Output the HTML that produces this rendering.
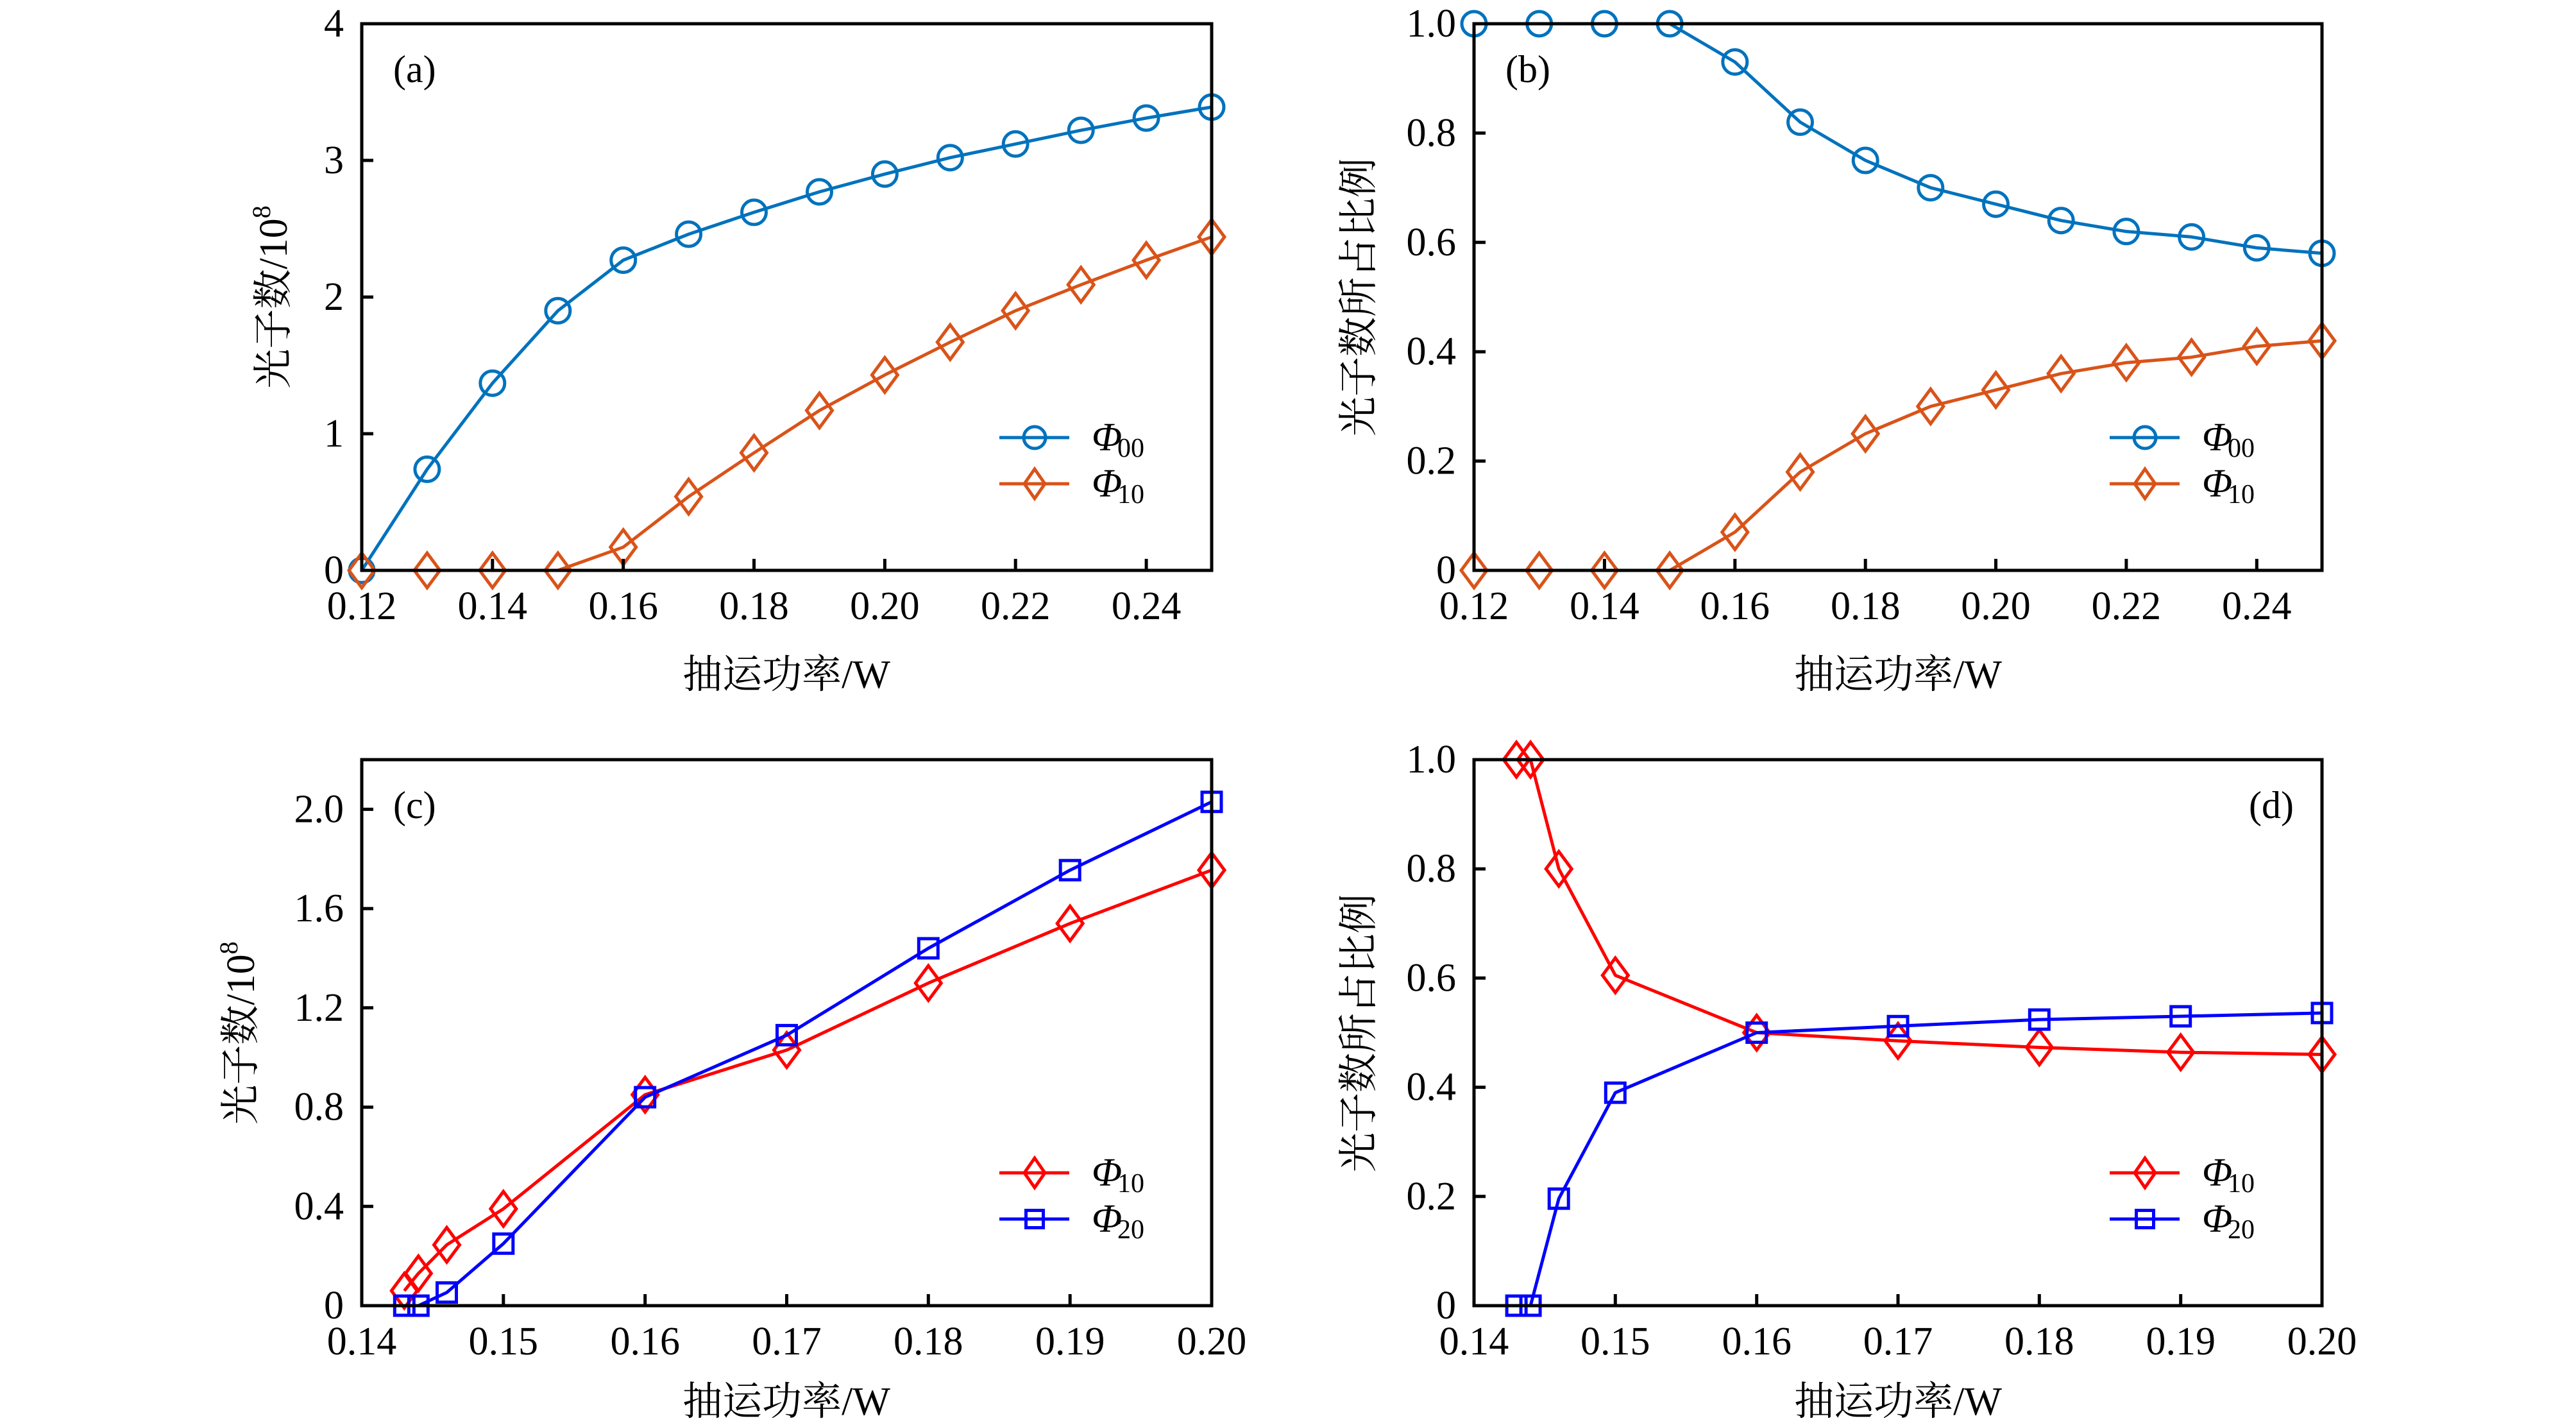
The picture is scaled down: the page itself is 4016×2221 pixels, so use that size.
<!DOCTYPE html>
<html>
<head>
<meta charset="utf-8">
<style>
html,body{margin:0;padding:0;background:#fff;}
svg{display:block;}
text{font-family:"Liberation Serif","Noto Serif CJK SC",serif;fill:#000;}
.cjk{font-family:"Liberation Serif","Noto Serif CJK SC",serif;}
</style>
</head>
<body>
<svg width="4016" height="2221" viewBox="0 0 4016 2221" xmlns="http://www.w3.org/2000/svg">
<rect x="0" y="0" width="4016" height="2221" fill="#fff"/>

<!-- ================= Panel (a) ================= -->
<g>
  <!-- series Φ00 -->
  <polyline fill="none" stroke="#0072BD" stroke-width="5" stroke-linejoin="round"
    points="564,889 665.9,731.4 767.8,597.2 869.8,484.3 971.7,405.5 1073.6,365 1175.5,330.9 1277.5,299 1379.4,271.3 1481.3,245.7 1583.2,224.4 1685.2,203.1 1787.1,184 1889,166.9"/>
  <g fill="none" stroke="#0072BD" stroke-width="5">
    <circle cx="564" cy="889" r="19"/><circle cx="665.9" cy="731.4" r="19"/><circle cx="767.8" cy="597.2" r="19"/>
    <circle cx="869.8" cy="484.3" r="19"/><circle cx="971.7" cy="405.5" r="19"/><circle cx="1073.6" cy="365" r="19"/>
    <circle cx="1175.5" cy="330.9" r="19"/><circle cx="1277.5" cy="299" r="19"/><circle cx="1379.4" cy="271.3" r="19"/>
    <circle cx="1481.3" cy="245.7" r="19"/><circle cx="1583.2" cy="224.4" r="19"/><circle cx="1685.2" cy="203.1" r="19"/>
    <circle cx="1787.1" cy="184" r="19"/><circle cx="1889" cy="166.9" r="19"/>
  </g>
  <!-- series Φ10 -->
  <polyline fill="none" stroke="#D95319" stroke-width="5" stroke-linejoin="round"
    points="564,889 665.9,889 767.8,889 869.8,889 971.7,852.8 1073.6,774 1175.5,705.8 1277.5,639.8 1379.4,584.4 1481.3,533.3 1583.2,484.3 1685.2,443.8 1787.1,405.5 1889,369.3"/>
  <g fill="none" stroke="#D95319" stroke-width="5">
    <polygon points="564,862 584,889 564,916 544,889"/>
    <polygon points="665.9,862 685.9,889 665.9,916 645.9,889"/>
    <polygon points="767.8,862 787.8,889 767.8,916 747.8,889"/>
    <polygon points="869.8,862 889.8,889 869.8,916 849.8,889"/>
    <polygon points="971.7,825.8 991.7,852.8 971.7,879.8 951.7,852.8"/>
    <polygon points="1073.6,747 1093.6,774 1073.6,801 1053.6,774"/>
    <polygon points="1175.5,678.8 1195.5,705.8 1175.5,732.8 1155.5,705.8"/>
    <polygon points="1277.5,612.8 1297.5,639.8 1277.5,666.8 1257.5,639.8"/>
    <polygon points="1379.4,557.4 1399.4,584.4 1379.4,611.4 1359.4,584.4"/>
    <polygon points="1481.3,506.3 1501.3,533.3 1481.3,560.3 1461.3,533.3"/>
    <polygon points="1583.2,457.3 1603.2,484.3 1583.2,511.3 1563.2,484.3"/>
    <polygon points="1685.2,416.8 1705.2,443.8 1685.2,470.8 1665.2,443.8"/>
    <polygon points="1787.1,378.5 1807.1,405.5 1787.1,432.5 1767.1,405.5"/>
    <polygon points="1889,342.3 1909,369.3 1889,396.3 1869,369.3"/>
  </g>
  <!-- axes -->
  <rect x="564" y="37" width="1325" height="852" fill="none" stroke="#000" stroke-width="5"/>
  <g stroke="#000" stroke-width="5">
    <line x1="767.8" y1="889" x2="767.8" y2="871"/><line x1="971.7" y1="889" x2="971.7" y2="871"/>
    <line x1="1175.5" y1="889" x2="1175.5" y2="871"/><line x1="1379.4" y1="889" x2="1379.4" y2="871"/>
    <line x1="1583.2" y1="889" x2="1583.2" y2="871"/><line x1="1787.1" y1="889" x2="1787.1" y2="871"/>
    <line x1="564" y1="676" x2="582" y2="676"/><line x1="564" y1="463" x2="582" y2="463"/><line x1="564" y1="250" x2="582" y2="250"/>
  </g>
  <g font-size="62" text-anchor="middle">
    <text x="564" y="965">0.12</text><text x="767.8" y="965">0.14</text><text x="971.7" y="965">0.16</text>
    <text x="1175.5" y="965">0.18</text><text x="1379.4" y="965">0.20</text><text x="1583.2" y="965">0.22</text>
    <text x="1787.1" y="965">0.24</text>
  </g>
  <g font-size="62" text-anchor="end">
    <text x="536" y="909">0</text><text x="536" y="696">1</text><text x="536" y="483">2</text>
    <text x="536" y="270">3</text><text x="536" y="57">4</text>
  </g>
  <text x="613" y="128" font-size="60">(a)</text>
  <text class="cjk" x="1226" y="1072" font-size="62" text-anchor="middle">抽运功率/W</text>
  <text class="cjk" transform="translate(447,463) rotate(-90)" font-size="62" text-anchor="middle">光子数/10<tspan font-size="40" dy="-26">8</tspan></text>
  <!-- legend -->
  <line x1="1558" y1="682" x2="1667" y2="682" stroke="#0072BD" stroke-width="5"/>
  <circle cx="1613" cy="682" r="17" fill="none" stroke="#0072BD" stroke-width="5"/>
  <line x1="1558" y1="754" x2="1667" y2="754" stroke="#D95319" stroke-width="5"/>
  <polygon points="1613,731 1629,754 1613,777 1597,754" fill="none" stroke="#D95319" stroke-width="5"/>
  <text x="1702" y="702" font-size="62" font-style="italic">Φ</text><text x="1742" y="712" font-size="42">00</text>
  <text x="1702" y="774" font-size="62" font-style="italic">Φ</text><text x="1742" y="784" font-size="42">10</text>
</g>

<!-- ================= Panel (b) ================= -->
<g>
  <polyline fill="none" stroke="#0072BD" stroke-width="5" stroke-linejoin="round"
    points="2298,37 2399.7,37 2501.4,37 2603.1,37 2704.8,96.6 2806.5,190.4 2908.2,250 3009.8,292.6 3111.5,318.2 3213.2,343.7 3314.9,360.8 3416.6,369.3 3518.3,386.3 3620,394.8"/>
  <g fill="none" stroke="#0072BD" stroke-width="5">
    <circle cx="2298" cy="37" r="19"/><circle cx="2399.7" cy="37" r="19"/><circle cx="2501.4" cy="37" r="19"/>
    <circle cx="2603.1" cy="37" r="19"/><circle cx="2704.8" cy="96.6" r="19"/><circle cx="2806.5" cy="190.4" r="19"/>
    <circle cx="2908.2" cy="250" r="19"/><circle cx="3009.8" cy="292.6" r="19"/><circle cx="3111.5" cy="318.2" r="19"/>
    <circle cx="3213.2" cy="343.7" r="19"/><circle cx="3314.9" cy="360.8" r="19"/><circle cx="3416.6" cy="369.3" r="19"/>
    <circle cx="3518.3" cy="386.3" r="19"/><circle cx="3620" cy="394.8" r="19"/>
  </g>
  <polyline fill="none" stroke="#D95319" stroke-width="5" stroke-linejoin="round"
    points="2298,889 2399.7,889 2501.4,889 2603.1,889 2704.8,829.4 2806.5,735.6 2908.2,676 3009.8,633.4 3111.5,607.8 3213.2,582.3 3314.9,565.2 3416.6,556.7 3518.3,539.7 3620,531.2"/>
  <g fill="none" stroke="#D95319" stroke-width="5">
    <polygon points="2298,862 2318,889 2298,916 2278,889"/>
    <polygon points="2399.7,862 2419.7,889 2399.7,916 2379.7,889"/>
    <polygon points="2501.4,862 2521.4,889 2501.4,916 2481.4,889"/>
    <polygon points="2603.1,862 2623.1,889 2603.1,916 2583.1,889"/>
    <polygon points="2704.8,802.4 2724.8,829.4 2704.8,856.4 2684.8,829.4"/>
    <polygon points="2806.5,708.6 2826.5,735.6 2806.5,762.6 2786.5,735.6"/>
    <polygon points="2908.2,649 2928.2,676 2908.2,703 2888.2,676"/>
    <polygon points="3009.8,606.4 3029.8,633.4 3009.8,660.4 2989.8,633.4"/>
    <polygon points="3111.5,580.8 3131.5,607.8 3111.5,634.8 3091.5,607.8"/>
    <polygon points="3213.2,555.3 3233.2,582.3 3213.2,609.3 3193.2,582.3"/>
    <polygon points="3314.9,538.2 3334.9,565.2 3314.9,592.2 3294.9,565.2"/>
    <polygon points="3416.6,529.7 3436.6,556.7 3416.6,583.7 3396.6,556.7"/>
    <polygon points="3518.3,512.7 3538.3,539.7 3518.3,566.7 3498.3,539.7"/>
    <polygon points="3620,504.2 3640,531.2 3620,558.2 3600,531.2"/>
  </g>
  <rect x="2298" y="37" width="1322" height="852" fill="none" stroke="#000" stroke-width="5"/>
  <g stroke="#000" stroke-width="5">
    <line x1="2501.4" y1="889" x2="2501.4" y2="871"/><line x1="2704.8" y1="889" x2="2704.8" y2="871"/>
    <line x1="2908.2" y1="889" x2="2908.2" y2="871"/><line x1="3111.5" y1="889" x2="3111.5" y2="871"/>
    <line x1="3314.9" y1="889" x2="3314.9" y2="871"/><line x1="3518.3" y1="889" x2="3518.3" y2="871"/>
    <line x1="2298" y1="718.6" x2="2316" y2="718.6"/><line x1="2298" y1="548.2" x2="2316" y2="548.2"/>
    <line x1="2298" y1="377.8" x2="2316" y2="377.8"/><line x1="2298" y1="207.4" x2="2316" y2="207.4"/>
  </g>
  <g font-size="62" text-anchor="middle">
    <text x="2298" y="965">0.12</text><text x="2501.4" y="965">0.14</text><text x="2704.8" y="965">0.16</text>
    <text x="2908.2" y="965">0.18</text><text x="3111.5" y="965">0.20</text><text x="3314.9" y="965">0.22</text>
    <text x="3518.3" y="965">0.24</text>
  </g>
  <g font-size="62" text-anchor="end">
    <text x="2270" y="909">0</text><text x="2270" y="738.6">0.2</text><text x="2270" y="568.2">0.4</text>
    <text x="2270" y="397.8">0.6</text><text x="2270" y="227.4">0.8</text><text x="2270" y="57">1.0</text>
  </g>
  <text x="2347" y="128" font-size="60">(b)</text>
  <text class="cjk" x="2959" y="1072" font-size="62" text-anchor="middle">抽运功率/W</text>
  <text class="cjk" transform="translate(2139,463) rotate(-90)" font-size="62" text-anchor="middle">光子数所占比例</text>
  <line x1="3289" y1="682" x2="3398" y2="682" stroke="#0072BD" stroke-width="5"/>
  <circle cx="3344" cy="682" r="17" fill="none" stroke="#0072BD" stroke-width="5"/>
  <line x1="3289" y1="754" x2="3398" y2="754" stroke="#D95319" stroke-width="5"/>
  <polygon points="3344,731 3360,754 3344,777 3328,754" fill="none" stroke="#D95319" stroke-width="5"/>
  <text x="3433" y="702" font-size="62" font-style="italic">Φ</text><text x="3473" y="712" font-size="42">00</text>
  <text x="3433" y="774" font-size="62" font-style="italic">Φ</text><text x="3473" y="784" font-size="42">10</text>
</g>

<!-- ================= Panel (c) ================= -->
<g>
  <polyline fill="none" stroke="#FF0000" stroke-width="5" stroke-linejoin="round"
    points="630.3,2011.8 652.3,1984.7 696.5,1940.2 784.8,1884.1 1005.7,1706.2 1226.5,1636.6 1447.3,1532.2 1668.2,1439.3 1889,1356.2"/>
  <g fill="none" stroke="#FF0000" stroke-width="5">
    <polygon points="630.3,1984.8 650.3,2011.8 630.3,2038.8 610.3,2011.8"/>
    <polygon points="652.3,1957.7 672.3,1984.7 652.3,2011.7 632.3,1984.7"/>
    <polygon points="696.5,1913.2 716.5,1940.2 696.5,1967.2 676.5,1940.2"/>
    <polygon points="784.8,1857.1 804.8,1884.1 784.8,1911.1 764.8,1884.1"/>
    <polygon points="1005.7,1679.2 1025.7,1706.2 1005.7,1733.2 985.7,1706.2"/>
    <polygon points="1226.5,1609.6 1246.5,1636.6 1226.5,1663.6 1206.5,1636.6"/>
    <polygon points="1447.3,1505.2 1467.3,1532.2 1447.3,1559.2 1427.3,1532.2"/>
    <polygon points="1668.2,1412.3 1688.2,1439.3 1668.2,1466.3 1648.2,1439.3"/>
    <polygon points="1889,1329.2 1909,1356.2 1889,1383.2 1869,1356.2"/>
  </g>
  <polyline fill="none" stroke="#0000FF" stroke-width="5" stroke-linejoin="round"
    points="630.3,2035 652.3,2035 696.5,2014.5 784.8,1938.3 1005.7,1710.1 1226.5,1613.4 1447.3,1478 1668.2,1356.2 1889,1249.8"/>
  <g fill="none" stroke="#0000FF" stroke-width="5">
    <rect x="615.3" y="2020" width="30" height="30"/>
    <rect x="637.3" y="2020" width="30" height="30"/>
    <rect x="681.5" y="1999.5" width="30" height="30"/>
    <rect x="769.8" y="1923.3" width="30" height="30"/>
    <rect x="990.7" y="1695.1" width="30" height="30"/>
    <rect x="1211.5" y="1598.4" width="30" height="30"/>
    <rect x="1432.3" y="1463" width="30" height="30"/>
    <rect x="1653.2" y="1341.2" width="30" height="30"/>
    <rect x="1874" y="1234.8" width="30" height="30"/>
  </g>
  <rect x="564" y="1184" width="1325" height="851" fill="none" stroke="#000" stroke-width="5"/>
  <g stroke="#000" stroke-width="5">
    <line x1="784.8" y1="2035" x2="784.8" y2="2017"/><line x1="1005.7" y1="2035" x2="1005.7" y2="2017"/>
    <line x1="1226.5" y1="2035" x2="1226.5" y2="2017"/><line x1="1447.3" y1="2035" x2="1447.3" y2="2017"/>
    <line x1="1668.2" y1="2035" x2="1668.2" y2="2017"/>
    <line x1="564" y1="1880.3" x2="582" y2="1880.3"/><line x1="564" y1="1725.6" x2="582" y2="1725.6"/>
    <line x1="564" y1="1570.8" x2="582" y2="1570.8"/><line x1="564" y1="1416.1" x2="582" y2="1416.1"/>
    <line x1="564" y1="1261.4" x2="582" y2="1261.4"/>
  </g>
  <g font-size="62" text-anchor="middle">
    <text x="564" y="2111">0.14</text><text x="784.8" y="2111">0.15</text><text x="1005.7" y="2111">0.16</text>
    <text x="1226.5" y="2111">0.17</text><text x="1447.3" y="2111">0.18</text><text x="1668.2" y="2111">0.19</text>
    <text x="1889" y="2111">0.20</text>
  </g>
  <g font-size="62" text-anchor="end">
    <text x="536" y="2055">0</text><text x="536" y="1900.3">0.4</text><text x="536" y="1745.6">0.8</text>
    <text x="536" y="1590.8">1.2</text><text x="536" y="1436.1">1.6</text><text x="536" y="1281.4">2.0</text>
  </g>
  <text x="613" y="1275" font-size="60">(c)</text>
  <text class="cjk" x="1226" y="2205" font-size="62" text-anchor="middle">抽运功率/W</text>
  <text class="cjk" transform="translate(396,1610) rotate(-90)" font-size="62" text-anchor="middle">光子数/10<tspan font-size="40" dy="-26">8</tspan></text>
  <line x1="1558" y1="1828" x2="1667" y2="1828" stroke="#FF0000" stroke-width="5"/>
  <polygon points="1613,1805 1629,1828 1613,1851 1597,1828" fill="none" stroke="#FF0000" stroke-width="5"/>
  <line x1="1558" y1="1900" x2="1667" y2="1900" stroke="#0000FF" stroke-width="5"/>
  <rect x="1599.5" y="1886.5" width="27" height="27" fill="none" stroke="#0000FF" stroke-width="5"/>
  <text x="1702" y="1848" font-size="62" font-style="italic">Φ</text><text x="1742" y="1858" font-size="42">10</text>
  <text x="1702" y="1920" font-size="62" font-style="italic">Φ</text><text x="1742" y="1930" font-size="42">20</text>
</g>

<!-- ================= Panel (d) ================= -->
<g>
  <polyline fill="none" stroke="#FF0000" stroke-width="5" stroke-linejoin="round"
    points="2364.1,1184 2386.1,1184 2430.2,1354.2 2518.3,1520.1 2738.7,1609.5 2959,1622.3 3179.3,1632.5 3399.7,1640.1 3620,1643.5"/>
  <g fill="none" stroke="#FF0000" stroke-width="5">
    <polygon points="2364.1,1157 2384.1,1184 2364.1,1211 2344.1,1184"/>
    <polygon points="2386.1,1157 2406.1,1184 2386.1,1211 2366.1,1184"/>
    <polygon points="2430.2,1327.2 2450.2,1354.2 2430.2,1381.2 2410.2,1354.2"/>
    <polygon points="2518.3,1493.1 2538.3,1520.1 2518.3,1547.1 2498.3,1520.1"/>
    <polygon points="2738.7,1582.5 2758.7,1609.5 2738.7,1636.5 2718.7,1609.5"/>
    <polygon points="2959,1595.3 2979,1622.3 2959,1649.3 2939,1622.3"/>
    <polygon points="3179.3,1605.5 3199.3,1632.5 3179.3,1659.5 3159.3,1632.5"/>
    <polygon points="3399.7,1613.1 3419.7,1640.1 3399.7,1667.1 3379.7,1640.1"/>
    <polygon points="3620,1616.5 3640,1643.5 3620,1670.5 3600,1643.5"/>
  </g>
  <polyline fill="none" stroke="#0000FF" stroke-width="5" stroke-linejoin="round"
    points="2364.1,2035 2386.1,2035 2430.2,1868.2 2518.3,1703.1 2738.7,1609.5 2959,1599.3 3179.3,1589.1 3399.7,1584 3620,1578.9"/>
  <g fill="none" stroke="#0000FF" stroke-width="5">
    <rect x="2349.1" y="2020" width="30" height="30"/>
    <rect x="2371.1" y="2020" width="30" height="30"/>
    <rect x="2415.2" y="1853.2" width="30" height="30"/>
    <rect x="2503.3" y="1688.1" width="30" height="30"/>
    <rect x="2723.7" y="1594.5" width="30" height="30"/>
    <rect x="2944" y="1584.3" width="30" height="30"/>
    <rect x="3164.3" y="1574.1" width="30" height="30"/>
    <rect x="3384.7" y="1569" width="30" height="30"/>
    <rect x="3605" y="1563.9" width="30" height="30"/>
  </g>
  <rect x="2298" y="1184" width="1322" height="851" fill="none" stroke="#000" stroke-width="5"/>
  <g stroke="#000" stroke-width="5">
    <line x1="2518.3" y1="2035" x2="2518.3" y2="2017"/><line x1="2738.7" y1="2035" x2="2738.7" y2="2017"/>
    <line x1="2959" y1="2035" x2="2959" y2="2017"/><line x1="3179.3" y1="2035" x2="3179.3" y2="2017"/>
    <line x1="3399.7" y1="2035" x2="3399.7" y2="2017"/>
    <line x1="2298" y1="1864.8" x2="2316" y2="1864.8"/><line x1="2298" y1="1694.6" x2="2316" y2="1694.6"/>
    <line x1="2298" y1="1524.4" x2="2316" y2="1524.4"/><line x1="2298" y1="1354.2" x2="2316" y2="1354.2"/>
  </g>
  <g font-size="62" text-anchor="middle">
    <text x="2298" y="2111">0.14</text><text x="2518.3" y="2111">0.15</text><text x="2738.7" y="2111">0.16</text>
    <text x="2959" y="2111">0.17</text><text x="3179.3" y="2111">0.18</text><text x="3399.7" y="2111">0.19</text>
    <text x="3620" y="2111">0.20</text>
  </g>
  <g font-size="62" text-anchor="end">
    <text x="2270" y="2055">0</text><text x="2270" y="1884.8">0.2</text><text x="2270" y="1714.6">0.4</text>
    <text x="2270" y="1544.4">0.6</text><text x="2270" y="1374.2">0.8</text><text x="2270" y="1204">1.0</text>
  </g>
  <text x="3506" y="1275" font-size="60">(d)</text>
  <text class="cjk" x="2959" y="2205" font-size="62" text-anchor="middle">抽运功率/W</text>
  <text class="cjk" transform="translate(2139,1610) rotate(-90)" font-size="62" text-anchor="middle">光子数所占比例</text>
  <line x1="3289" y1="1828" x2="3398" y2="1828" stroke="#FF0000" stroke-width="5"/>
  <polygon points="3344,1805 3360,1828 3344,1851 3328,1828" fill="none" stroke="#FF0000" stroke-width="5"/>
  <line x1="3289" y1="1900" x2="3398" y2="1900" stroke="#0000FF" stroke-width="5"/>
  <rect x="3330.5" y="1886.5" width="27" height="27" fill="none" stroke="#0000FF" stroke-width="5"/>
  <text x="3433" y="1848" font-size="62" font-style="italic">Φ</text><text x="3473" y="1858" font-size="42">10</text>
  <text x="3433" y="1920" font-size="62" font-style="italic">Φ</text><text x="3473" y="1930" font-size="42">20</text>
</g>
</svg>
</body>
</html>
